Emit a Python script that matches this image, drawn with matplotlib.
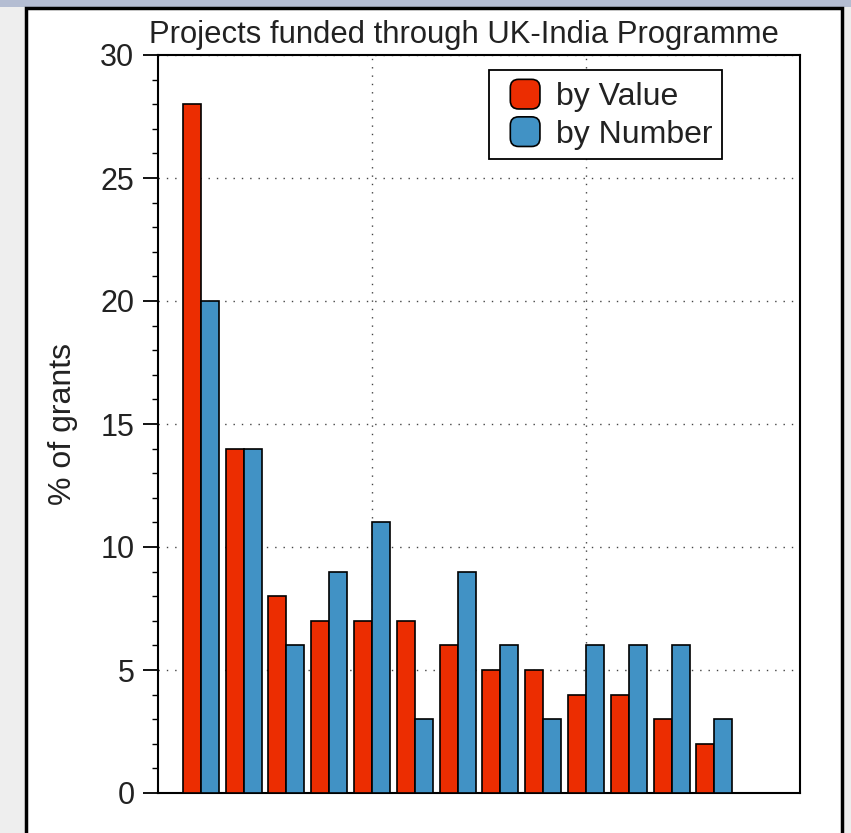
import matplotlib
matplotlib.use('Agg')
import matplotlib.pyplot as plt
from matplotlib.patches import Rectangle, FancyBboxPatch, Patch
from matplotlib.legend_handler import HandlerPatch
from matplotlib.ticker import MultipleLocator

plt.rcParams['font.family'] = ['Liberation Sans', 'DejaVu Sans']

# data
groups = list(range(1, 14))
by_value = [28, 14, 8, 7, 7, 7, 6, 5, 5, 4, 4, 3, 2]
by_number = [20, 14, 6, 9, 11, 3, 9, 6, 3, 6, 6, 6, 3]
labels = ['by Value', 'by Number']
red = '#ec2d01'
blue = '#4192c5'
text_col = '#222222'

fig = plt.figure(figsize=(8.51, 8.33), dpi=100)
fig.patch.set_facecolor('#eeeeee')

# screenshot bits: strip at top, white panel with black frame
fig.patches.append(Rectangle((0, 1 - 7 / 833), 1, 7 / 833, transform=fig.transFigure,
                             facecolor='#b4bdd2', edgecolor='none', zorder=0))
fig.patches.append(Rectangle((26 / 851, -0.02), 816 / 851, 1.02 - 8 / 833,
                             transform=fig.transFigure, facecolor='white',
                             edgecolor='black', linewidth=2.5, zorder=1))

ax = fig.add_axes([158 / 851, 40 / 833, 642 / 851, 738 / 833])
ax.set_zorder(2)

w = 0.42
ax.bar([g - w / 2 for g in groups], by_value, width=w, color=red,
       edgecolor='black', linewidth=1.2, zorder=3)
ax.bar([g + w / 2 for g in groups], by_number, width=w, color=blue,
       edgecolor='black', linewidth=1.2, zorder=3)

ax.set_xlim(0, 15)
ax.set_ylim(0, 30)
ax.set_xticks([5, 10])
ax.yaxis.set_major_locator(MultipleLocator(5))
ax.yaxis.set_minor_locator(MultipleLocator(1))
ax.tick_params(axis='x', length=0, labelbottom=False)
ax.tick_params(axis='y', which='major', direction='out', length=11, width=1.3,
               labelsize=22, labelcolor=text_col, pad=6)
ax.tick_params(axis='y', which='minor', direction='out', length=4.5, width=1.0)
ax.grid(True, which='major', linestyle=(0, (1, 5)), color='#444444', linewidth=1.0, zorder=0)
ax.set_axisbelow(True)
for s in ax.spines.values():
    s.set_linewidth(1.5)

ax.set_ylabel('% of grants', fontsize=23, color=text_col, labelpad=16)
# title sits a little left of the axes centre in the reference
ax.set_title('Projects funded through UK-India Programme', fontsize=22.3,
             color=text_col, pad=9, x=(464 - 158) / 642)


def rounded_square(legend, orig_handle, xdescent, ydescent, width, height, fontsize):
    # square handle pushed to the right end of the handle box
    return FancyBboxPatch((-xdescent + width - height, -ydescent), height, height,
                          boxstyle='round,pad=0,rounding_size=6')


handles = [Patch(facecolor=red, edgecolor='black', linewidth=1.2),
           Patch(facecolor=blue, edgecolor='black', linewidth=1.2)]
leg = ax.legend(handles, labels, loc='upper right', bbox_to_anchor=(0.8785, 0.98),
                borderaxespad=0, fontsize=23, fancybox=False, framealpha=1,
                edgecolor='black', handlelength=1.3, handleheight=1.05,
                handletextpad=0.5, labelspacing=0.15, borderpad=0.3,
                handler_map={Patch: HandlerPatch(patch_func=rounded_square)})
leg.get_frame().set_linewidth(1.3)
for t in leg.get_texts():
    t.set_color(text_col)

plt.savefig('out.png', dpi=100, facecolor=fig.get_facecolor())
